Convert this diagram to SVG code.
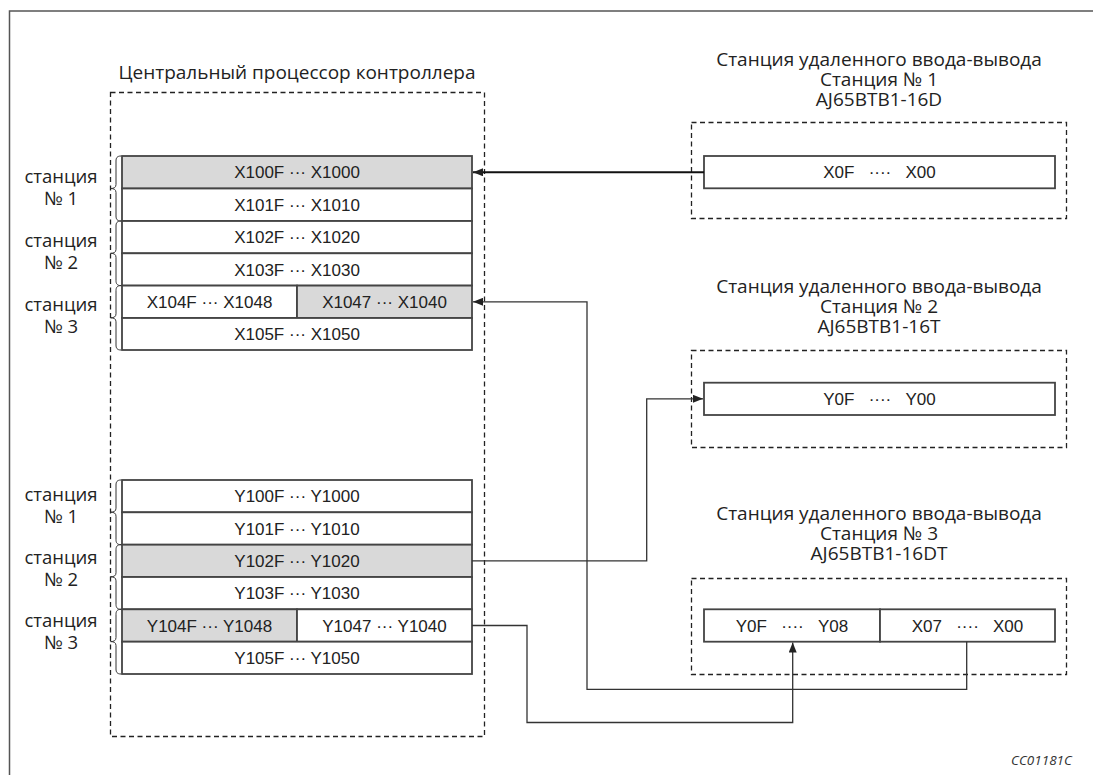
<svg xmlns="http://www.w3.org/2000/svg" width="1093" height="775" viewBox="0 0 1093 775">
<style>
.frame{fill:none;stroke:#555;stroke-width:1.5}
.dash{fill:none;stroke:#222;stroke-width:1.3;stroke-dasharray:5 3.5}
.cell{fill:#fff;stroke:#444;stroke-width:1.8}
.cellg{fill:#d9d9d9;stroke:#444;stroke-width:1.8}
.brace{fill:none;stroke:#333;stroke-width:1}
.t{font-family:"Liberation Sans",Arial,sans-serif;font-size:17px;fill:#222;text-anchor:middle}
.h{font-family:"Open Sans","Noto Sans",sans-serif;font-size:19px;fill:#222;text-anchor:middle}
.lbl{font-family:"Open Sans","Noto Sans",sans-serif;font-size:18.5px;fill:#222;text-anchor:middle}
.code{font-family:"Open Sans","Noto Sans",sans-serif;font-size:13.5px;font-style:italic;fill:#333;text-anchor:end}
.wire{fill:none;stroke:#333;stroke-width:1.3}
.wire2{fill:none;stroke:#111;stroke-width:2}
</style>
<defs>
<marker id="ah" viewBox="0 0 10 8" refX="10" refY="4" markerWidth="10" markerHeight="8" markerUnits="userSpaceOnUse" orient="auto">
<path d="M0,0 L10,4 L0,8 Z" fill="#222"/>
</marker>
</defs>
<rect width="1093" height="775" fill="#fff"/>
<rect class="frame" x="9.5" y="11" width="1200" height="1000"/>

<g id="cpu">
<rect class="dash" x="110.5" y="92.5" width="374" height="644"/>
<text class="h" x="297" y="79">Центральный процессор контроллера</text>
</g>

<g id="labels-x">
<text class="lbl" x="61" y="183">станция<tspan x="61" dy="21.5">№ 1</tspan></text>
<text class="lbl" x="61" y="247">станция<tspan x="61" dy="21.5">№ 2</tspan></text>
<text class="lbl" x="61" y="311">станция<tspan x="61" dy="21.5">№ 3</tspan></text>
<path class="brace" d="M121,156 C117,156 116,158 116,161 L116,184.5 C116,187.5 114,188.5 110.5,188.5 C114,188.5 116,189.5 116,192.5 L116,216 C116,219 117,221 121,221"/>
<path class="brace" d="M121,221 C117,221 116,223 116,226 L116,249.3 C116,252.3 114,253.3 110.5,253.3 C114,253.3 116,254.3 116,257.3 L116,280.6 C116,283.6 117,285.6 121,285.6"/>
<path class="brace" d="M121,285.6 C117,285.6 116,287.6 116,290.6 L116,313.8 C116,316.8 114,317.8 110.5,317.8 C114,317.8 116,318.8 116,321.8 L116,345 C116,348 117,350 121,350"/>
</g>

<g id="x-row-1"><rect class="cellg" x="122" y="156" width="350" height="32.5"/><text class="t" x="297" y="178.3">X100F ··· X1000</text></g>
<g id="x-row-2"><rect class="cell" x="122" y="188.5" width="350" height="32.5"/><text class="t" x="297" y="210.8">X101F ··· X1010</text></g>
<g id="x-row-3"><rect class="cell" x="122" y="221" width="350" height="32.3"/><text class="t" x="297" y="243.3">X102F ··· X1020</text></g>
<g id="x-row-4"><rect class="cell" x="122" y="253.3" width="350" height="32.3"/><text class="t" x="297" y="275.6">X103F ··· X1030</text></g>
<g id="x-row-5a"><rect class="cell" x="122" y="285.6" width="175" height="32.4"/><text class="t" x="209.5" y="307.9">X104F ··· X1048</text></g>
<g id="x-row-5b"><rect class="cellg" x="297" y="285.6" width="175" height="32.4"/><text class="t" x="384.5" y="307.9">X1047 ··· X1040</text></g>
<g id="x-row-6"><rect class="cell" x="122" y="318" width="350" height="32"/><text class="t" x="297" y="340.3">X105F ··· X1050</text></g>

<g id="labels-y">
<text class="lbl" x="61" y="501">станция<tspan x="61" dy="22">№ 1</tspan></text>
<text class="lbl" x="61" y="564">станция<tspan x="61" dy="22">№ 2</tspan></text>
<text class="lbl" x="61" y="627">станция<tspan x="61" dy="22">№ 3</tspan></text>
<path class="brace" d="M121,480 C117,480 116,482 116,485 L116,508.2 C116,511.2 114,512.2 110.5,512.2 C114,512.2 116,513.2 116,516.2 L116,539.7 C116,542.7 117,544.7 121,544.7"/>
<path class="brace" d="M121,544.7 C117,544.7 116,546.7 116,549.7 L116,572.8 C116,575.8 114,576.8 110.5,576.8 C114,576.8 116,577.8 116,580.8 L116,604.3 C116,607.3 117,609.3 121,609.3"/>
<path class="brace" d="M121,609.3 C117,609.3 116,611.3 116,614.3 L116,637.6 C116,640.6 114,641.6 110.5,641.6 C114,641.6 116,642.6 116,645.6 L116,669 C116,672 117,674 121,674"/>
</g>

<g id="y-row-1"><rect class="cell" x="122" y="480" width="350" height="32.3"/><text class="t" x="297" y="502.3">Y100F ··· Y1000</text></g>
<g id="y-row-2"><rect class="cell" x="122" y="512.3" width="350" height="32.4"/><text class="t" x="297" y="534.6">Y101F ··· Y1010</text></g>
<g id="y-row-3"><rect class="cellg" x="122" y="544.7" width="350" height="32.3"/><text class="t" x="297" y="567">Y102F ··· Y1020</text></g>
<g id="y-row-4"><rect class="cell" x="122" y="577" width="350" height="32.3"/><text class="t" x="297" y="599.3">Y103F ··· Y1030</text></g>
<g id="y-row-5a"><rect class="cellg" x="122" y="609.3" width="175" height="32.4"/><text class="t" x="209.5" y="631.6">Y104F ··· Y1048</text></g>
<g id="y-row-5b"><rect class="cell" x="297" y="609.3" width="175" height="32.4"/><text class="t" x="384.5" y="631.6">Y1047 ··· Y1040</text></g>
<g id="y-row-6"><rect class="cell" x="122" y="641.7" width="350" height="32.3"/><text class="t" x="297" y="664">Y105F ··· Y1050</text></g>

<g id="station-1">
<text class="h" x="879" y="66">Станция удаленного ввода-вывода<tspan x="879" dy="20">Станция № 1</tspan><tspan x="879" dy="20">AJ65BTB1-16D</tspan></text>
<rect class="dash" x="691.5" y="122.5" width="375" height="96"/>
<rect class="cell" x="704" y="156" width="351" height="32.3"/>
<text class="t" x="879.5" y="178.3">X0F&#160;&#160;&#160;····&#160;&#160;&#160;X00</text>
</g>

<g id="station-2">
<text class="h" x="879" y="293">Станция удаленного ввода-вывода<tspan x="879" dy="20">Станция № 2</tspan><tspan x="879" dy="20">AJ65BTB1-16T</tspan></text>
<rect class="dash" x="691.5" y="350.5" width="375" height="97"/>
<rect class="cell" x="704" y="382.7" width="351" height="32.3"/>
<text class="t" x="879.5" y="405">Y0F&#160;&#160;&#160;····&#160;&#160;&#160;Y00</text>
</g>

<g id="station-3">
<text class="h" x="879" y="520">Станция удаленного ввода-вывода<tspan x="879" dy="20">Станция № 3</tspan><tspan x="879" dy="20">AJ65BTB1-16DT</tspan></text>
<rect class="dash" x="691.5" y="578.5" width="375" height="96"/>
<rect class="cell" x="704" y="609.3" width="176" height="32.4"/>
<text class="t" x="792" y="631.6">Y0F&#160;&#160;&#160;····&#160;&#160;&#160;Y08</text>
<rect class="cell" x="880" y="609.3" width="175" height="32.4"/>
<text class="t" x="967.5" y="631.6">X07&#160;&#160;&#160;····&#160;&#160;&#160;X00</text>
</g>

<g id="connectors">
<path class="wire2" d="M704,172.3 L473,172.3" marker-end="url(#ah)"/>
<path class="wire" d="M966.7,641.7 L966.7,689.3 L587,689.3 L587,301.8 L473,301.8" marker-end="url(#ah)"/>
<path class="wire" d="M472,560.8 L646.7,560.8 L646.7,398.8 L703,398.8" marker-end="url(#ah)"/>
<path class="wire" d="M472,625.5 L527,625.5 L527,722.5 L792.7,722.5 L792.7,642.5" marker-end="url(#ah)"/>
</g>

<text class="code" x="1072" y="765">CC01181C</text>
</svg>
